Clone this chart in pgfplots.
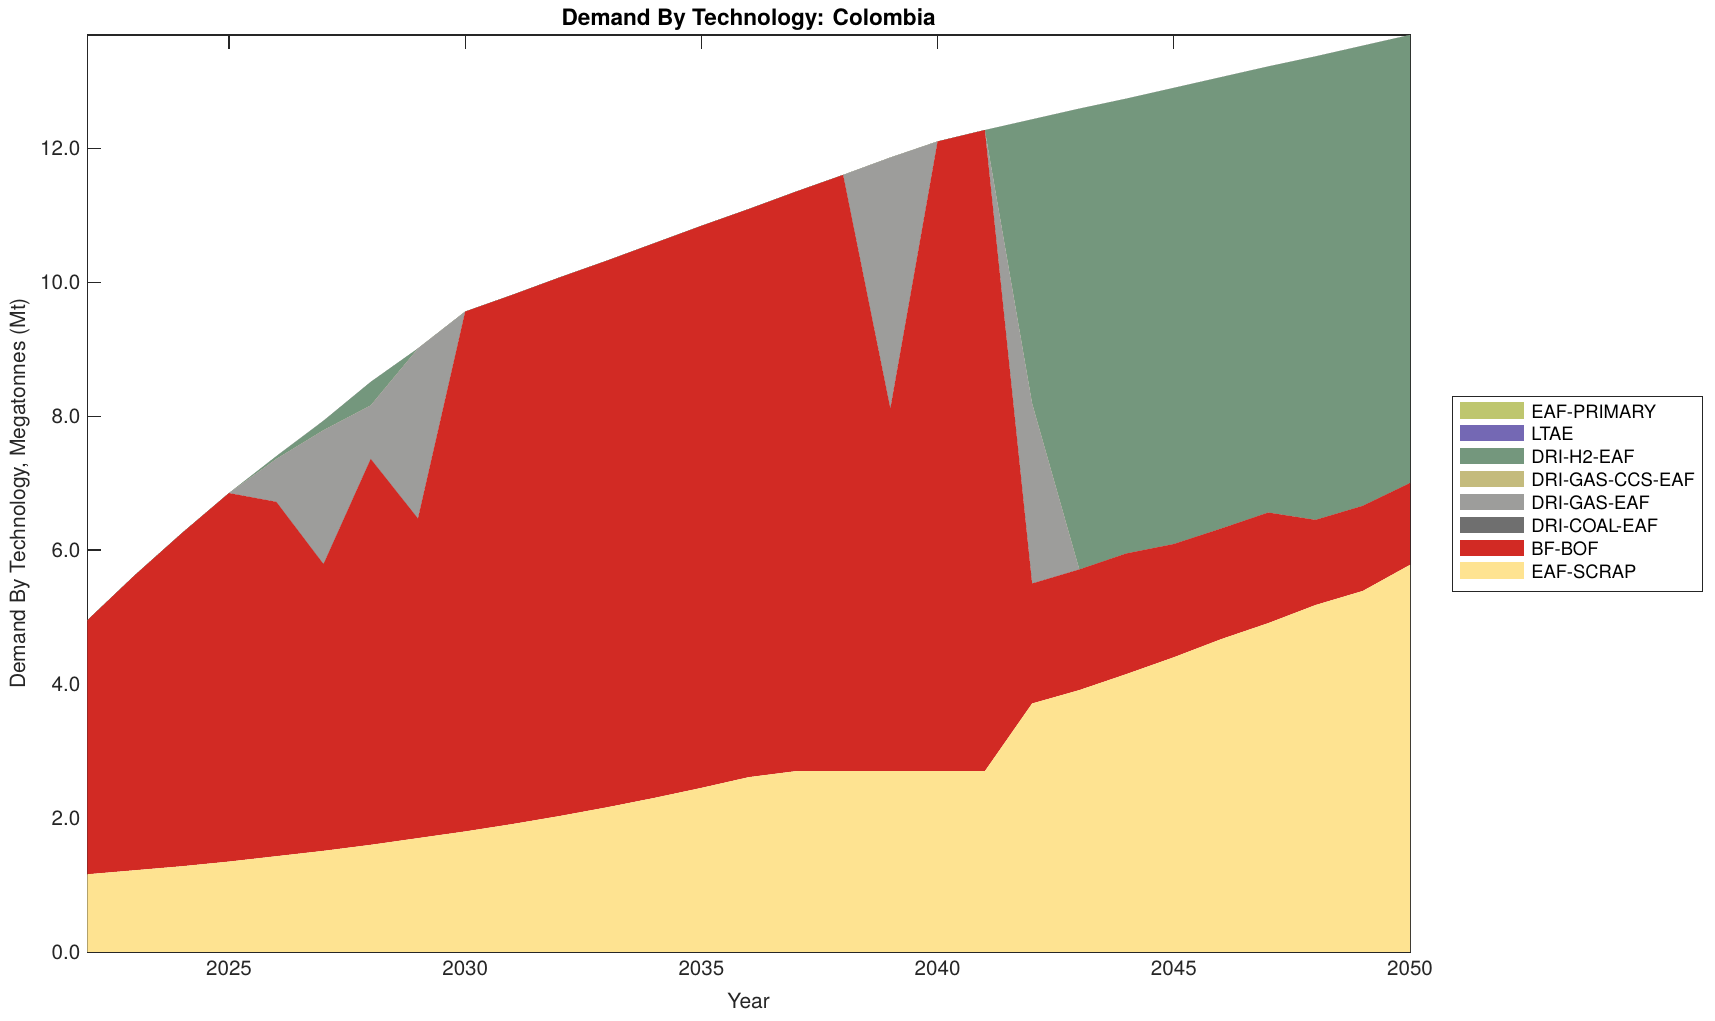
\documentclass[border=0pt]{standalone}
\usepackage{pgfplots}
\usepackage{pgfplotstable}
\usepackage{fontspec}
\setmainfont{TeX Gyre Heros}
\pgfplotsset{compat=1.18}
\definecolor{cprim}{RGB}{190,198,110}
\definecolor{cltae}{RGB}{116,104,180}
\definecolor{ch2}{RGB}{116,151,125}
\definecolor{cccs}{RGB}{196,187,125}
\definecolor{cgas}{RGB}{157,157,155}
\definecolor{ccoal}{RGB}{111,111,111}
\definecolor{cbf}{RGB}{210,42,36}
\definecolor{cscrap}{RGB}{254,227,145}
\definecolor{axgray}{RGB}{38,38,38}
\pgfplotstableread{
year scrap bfbof coal gas ccs h2 ltae prim
2022 1.16 3.79 0 0    0 0    0 0
2023 1.22 4.40 0 0    0 0    0 0
2024 1.28 4.97 0 0    0 0    0 0
2025 1.35 5.50 0 0    0 0    0 0
2026 1.43 5.29 0 0.64 0 0.04 0 0
2027 1.51 4.28 0 2.00 0 0.14 0 0
2028 1.60 5.76 0 0.80 0 0.35 0 0
2029 1.70 4.77 0 2.54 0 0    0 0
2030 1.80 7.76 0 0    0 0    0 0
2031 1.91 7.90 0 0    0 0    0 0
2032 2.03 8.04 0 0    0 0    0 0
2033 2.16 8.16 0 0    0 0    0 0
2034 2.30 8.28 0 0    0 0    0 0
2035 2.45 8.39 0 0    0 0    0 0
2036 2.61 8.48 0 0    0 0    0 0
2037 2.70 8.65 0 0    0 0    0 0
2038 2.70 8.90 0 0    0 0    0 0
2039 2.70 5.41 0 3.75 0 0    0 0
2040 2.70 9.40 0 0    0 0    0 0
2041 2.70 9.57 0 0    0 0    0 0
2042 3.71 1.79 0 2.69 0 4.24 0 0
2043 3.91 1.80 0 0    0 6.88 0 0
2044 4.15 1.80 0 0    0 6.79 0 0
2045 4.40 1.69 0 0    0 6.81 0 0
2046 4.67 1.65 0 0    0 6.74 0 0
2047 4.91 1.65 0 0    0 6.66 0 0
2048 5.18 1.27 0 0    0 6.92 0 0
2049 5.39 1.27 0 0    0 6.87 0 0
2050 5.78 1.22 0 0    0 6.69 0 0
}\datatable
\begin{document}
\begin{tikzpicture}
\useasboundingbox (0,0) rectangle (857.5pt,510.5pt);
\begin{axis}[
  at={(43.65pt,34.5pt)}, anchor=south west,
  scale only axis, width=661.35pt, height=458.5pt,
  xmin=2022, xmax=2050, ymin=0, ymax=13.69,
  stack plots=y,
  axis line style={axgray, line width=0.6pt},
  every tick/.style={axgray, line width=0.6pt},
  major tick length=7pt,
  tick align=inside,
  xtick={2025,2030,2035,2040,2045,2050},
  ytick={0,2,4,6,8,10,12},
  /pgf/number format/assume math mode=true,
  xticklabel style={font=\fontsize{10.3}{12}\selectfont, text=axgray, yshift=-1pt},
  yticklabel style={/pgf/number format/fixed, /pgf/number format/fixed zerofill, /pgf/number format/precision=1, font=\fontsize{10.3}{12}\selectfont, text=axgray},
  xticklabel={\pgfmathprintnumber[set thousands separator={},fixed,precision=0]{\tick}},
  every axis title shift=0pt,
  title={\textbf{Demand By Technology: Colombia}},
  title style={at={(axis description cs:0.5,1.0164)}, anchor=center, font=\fontsize{11.3}{13}\selectfont},
  xlabel={Year},
  xlabel style={at={(axis description cs:0.5,-0.0534)}, anchor=center, font=\fontsize{10.5}{12}\selectfont, text=axgray},
  ylabel={Demand By Technology, Megatonnes (Mt)},
  ylabel style={at={(axis description cs:-0.0511,0.5)}, anchor=center, font=\fontsize{10.5}{12}\selectfont, text=axgray},
  reverse legend,
  legend cell align=left,
  legend style={at={(axis description cs:1.032,0.6067)}, anchor=north west,
    draw=axgray, line width=0.5pt, font=\fontsize{9.2}{11}\selectfont,
    inner xsep=3.8pt, inner ysep=3pt, row sep=0pt,
    nodes={inner sep=0pt, text height=7.4pt, text depth=3.5pt}},
  legend image code/.code={\fill[#1] (0pt,-2.2pt) rectangle (31.7pt,6.0pt);},
  /tikz/every odd column/.append style={column sep=3.8pt},
]
\addplot[fill=cscrap, draw=none] table[x=year,y=scrap]{\datatable} \closedcycle;
\addlegendentry{EAF-SCRAP}
\addplot[fill=cbf, draw=none] table[x=year,y=bfbof]{\datatable} \closedcycle;
\addlegendentry{BF-BOF}
\addplot[fill=ccoal, draw=none] table[x=year,y=coal]{\datatable} \closedcycle;
\addlegendentry{DRI-COAL-EAF}
\addplot[fill=cgas, draw=none] table[x=year,y=gas]{\datatable} \closedcycle;
\addlegendentry{DRI-GAS-EAF}
\addplot[fill=cccs, draw=none] table[x=year,y=ccs]{\datatable} \closedcycle;
\addlegendentry{DRI-GAS-CCS-EAF}
\addplot[fill=ch2, draw=none] table[x=year,y=h2]{\datatable} \closedcycle;
\addlegendentry{DRI-H2-EAF}
\addplot[fill=cltae, draw=none] table[x=year,y=ltae]{\datatable} \closedcycle;
\addlegendentry{LTAE}
\addplot[fill=cprim, draw=none] table[x=year,y=prim]{\datatable} \closedcycle;
\addlegendentry{EAF-PRIMARY}
\end{axis}
\end{tikzpicture}
\end{document}
